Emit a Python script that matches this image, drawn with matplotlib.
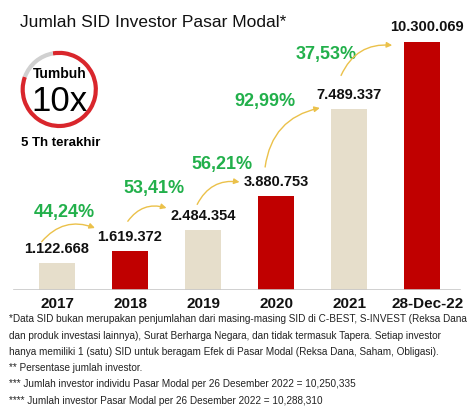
import matplotlib.pyplot as plt
from matplotlib.patches import Arc

plt.rcParams["font.family"] = ["Liberation Sans", "DejaVu Sans"]

years = ["2017", "2018", "2019", "2020", "2021", "28-Dec-22"]
values = [1122668, 1619372, 2484354, 3880753, 7489337, 10300069]
value_labels = ["1.122.668", "1.619.372", "2.484.354", "3.880.753", "7.489.337", "10.300.069"]
growth = ["44,24%", "53,41%", "56,21%", "92,99%", "37,53%"]
colors = ["#E6DECB", "#C00000", "#E6DECB", "#C00000", "#E6DECB", "#C00000"]

notes = [
    "*Data SID bukan merupakan penjumlahan dari masing-masing SID di C-BEST, S-INVEST (Reksa Dana",
    "dan produk investasi lainnya), Surat Berharga Negara, dan tidak termasuk Tapera. Setiap investor",
    "hanya memiliki 1 (satu) SID untuk beragam Efek di Pasar Modal (Reksa Dana, Saham, Obligasi).",
    "** Persentase jumlah investor.",
    "*** Jumlah investor individu Pasar Modal per 26 Desember 2022 = 10,250,335",
    "**** Jumlah investor Pasar Modal per 26 Desember 2022 = 10,288,310",
]

# placement of the growth labels and their arrows (data units)
growth_pos = [(0.1, 3.2e6), (1.33, 4.2e6), (2.26, 5.19e6), (2.85, 7.8e6), (3.68, 9.75e6)]
arrow_from = [(-0.21, 2.0e6), (0.97, 2.85e6), (1.92, 3.55e6), (2.85, 5.1e6), (3.89, 8.9e6)]
arrow_to = [(0.52, 2.57e6), (1.5, 3.4e6), (2.5, 4.48e6), (3.6, 7.55e6), (4.59, 10.15e6)]

fig = plt.figure(figsize=(4.74, 4.16), dpi=100)
ax = fig.add_axes([0, 0.303, 1, 0.62])
x = list(range(len(years)))
ax.bar(x, values, width=0.49, color=colors, zorder=2)
ax.set_xlim(-0.78, 5.71)
ax.set_ylim(0, 10.7e6)
ax.axhline(0, xmin=0.03, xmax=0.97, color="#C8C8C8", lw=1.2, zorder=3)
ax.axis("off")

for i, (v, lab) in enumerate(zip(values, value_labels)):
    dx = 0.07 if i == 5 else 0
    ax.text(i + dx, v + 0.3e6, lab, ha="center", va="bottom", fontsize=10.5,
            fontweight="bold", color="#111111", clip_on=False)
    ax.text(i + dx, -0.3e6, years[i], ha="center", va="top",
            fontsize=11, fontweight="bold", color="#111111")

for g, (gx, gy), a0, a1 in zip(growth, growth_pos, arrow_from, arrow_to):
    ax.text(gx, gy, g, ha="center", va="center", fontsize=13,
            fontweight="bold", color="#22B04B")
    ax.annotate("", xy=a1, xytext=a0,
                arrowprops=dict(arrowstyle="-|>", color="#EBC14A", lw=1,
                                mutation_scale=8, shrinkA=0, shrinkB=0,
                                connectionstyle="arc3,rad=-0.35"))

fig.text(0.042, 0.945, "Jumlah SID Investor Pasar Modal*", fontsize=12.5,
         color="#111111", va="center")

# growth badge
cax = fig.add_axes([0.04, 0.69, 0.17, 0.19])
cax.set_xlim(-1, 1)
cax.set_ylim(-1, 1)
cax.set_aspect("equal")
cax.axis("off")
cax.add_patch(Arc((0, 0), 1.85, 1.85, theta1=-200, theta2=100, color="#D9262C", lw=3))
cax.add_patch(Arc((0, 0), 1.85, 1.85, theta1=100, theta2=160, color="#D0D0D0", lw=3))
cax.text(0, 0.4, "Tumbuh", ha="center", va="center", fontsize=10, fontweight="bold")
cax.text(0, -0.3, "10x", ha="center", va="center", fontsize=25)
fig.text(0.045, 0.656, "5 Th terakhir", fontsize=9.5, fontweight="bold", va="center")

for k, line in enumerate(notes):
    fig.text(0.018, 0.232 - k * 0.039, line, fontsize=7.2, color="#222222", va="center")

fig.savefig("out.png", dpi=100)
